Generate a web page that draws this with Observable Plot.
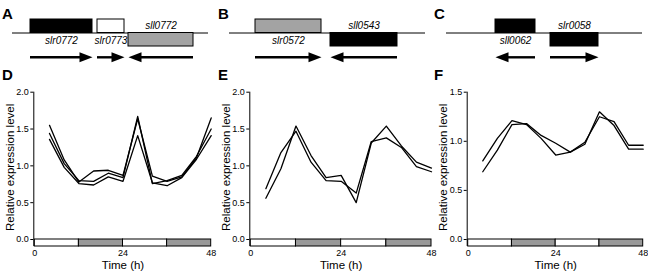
<!DOCTYPE html>
<html>
<head>
<meta charset="utf-8">
<script src="https://cdn.jsdelivr.net/npm/d3@7"></script>
<script src="https://cdn.jsdelivr.net/npm/@observablehq/plot@0.6"></script>
<style>
  body { margin: 0; background: white; }
  #fig { position: relative; width: 648px; height: 271px; overflow: hidden; font-family: "Liberation Sans", Arial, Helvetica, sans-serif; }
  .pl { position: absolute; }
  .letter { position: absolute; font-family: "Liberation Sans Narrow", "Liberation Sans", Arial, sans-serif; font-weight: bold; font-size: 15px; line-height: 15px; }
</style>
</head>
<body>
<div id="fig"></div>
<script>
// ---------- data ----------
const time = [4, 8, 12, 16, 20, 24, 28, 32, 36, 40, 44, 48];

// Panel D (slr0772 / slr0773 / sll0772)
const dSeries1 = [1.55, 1.08, 0.78, 0.93, 0.94, 0.87, 1.64, 0.86, 0.79, 0.85, 1.11, 1.65];
const dSeries2 = [1.44, 1.03, 0.80, 0.79, 0.90, 0.84, 1.67, 0.76, 0.80, 0.87, 1.13, 1.50];
const dSeries3 = [1.36, 0.98, 0.76, 0.74, 0.85, 0.79, 1.41, 0.77, 0.73, 0.84, 1.09, 1.41];

// Panel E (slr0572 / sll0543)
const eSeries1 = [0.69, 1.18, 1.47, 1.05, 0.80, 0.79, 0.63, 1.33, 1.38, 1.25, 0.99, 0.92];
const eSeries2 = [0.56, 0.96, 1.54, 1.14, 0.84, 0.87, 0.50, 1.31, 1.54, 1.27, 1.05, 0.97];

// Panel F (sll0062 / slr0058)
const fSeries1 = [0.80, 1.03, 1.21, 1.17, 1.03, 0.86, 0.89, 0.97, 1.30, 1.16, 0.92, 0.92];
const fSeries2 = [0.69, 0.91, 1.17, 1.18, 1.06, 0.98, 0.89, 0.99, 1.25, 1.20, 0.96, 0.96];

// light / dark regime
const phaseStart = [0, 12, 24, 36];
const phaseEnd = [12, 24, 36, 48];
const phaseKind = ["light", "dark", "light", "dark"];

const xTicks = [0, 24, 48];
const yTicks2 = [0, 0.5, 1.0, 1.5, 2.0];
const yTicks15 = [0, 0.5, 1.0, 1.5];

// Gene maps (map units along each contig)
const contigLength = 196;
const aNames = ["slr0772", "slr0773", "sll0772"];
const aStart = [18, 85, 116];
const aEnd = [80, 112, 181];
const aSide = [1, 1, -1];          // box above (+1) or below (-1) the contig line
const aDir = [1, 1, -1];           // transcription direction
const aShade = ["black", "white", "gray"];

const bNames = ["slr0572", "sll0543"];
const bStart = [26, 101];
const bEnd = [92, 168];
const bSide = [1, -1];
const bDir = [1, -1];
const bShade = ["gray", "black"];

const cNames = ["sll0062", "slr0058"];
const cStart = [49, 104];
const cEnd = [89, 152];
const cSide = [1, -1];
const cDir = [-1, 1];
const cShade = ["black", "black"];

// ---------- helpers ----------
const FONT = "Liberation Sans, Arial, Helvetica, sans-serif";
const shadeColor = {black: "#000", white: "#fff", gray: "#a3a3a3"};
const phaseColor = {light: "#fff", dark: "#999"};
const fig = document.getElementById("fig");

function place(node, left, top) {
  node.classList.add("pl");
  node.style.left = left + "px";
  node.style.top = top + "px";
  fig.appendChild(node);
}
function letter(t, left, top) {
  const d = document.createElement("div");
  d.className = "letter";
  d.textContent = t;
  d.style.left = left + "px";
  d.style.top = top + "px";
  fig.appendChild(d);
}

const headRight = {draw(ctx) { ctx.moveTo(0, 0); ctx.lineTo(-13, -5); ctx.lineTo(-13, 5); ctx.closePath(); }};
const headLeft = {draw(ctx) { ctx.moveTo(0, 0); ctx.lineTo(13, -5); ctx.lineTo(13, 5); ctx.closePath(); }};

function geneMap(names, starts, ends, sides, dirs, shades, rangeX) {
  const genes = names.map((n, i) => ({name: n, start: starts[i], end: ends[i], side: sides[i], dir: dirs[i], shade: shades[i]}));
  const arrowRow = -1.8;
  const right = genes.filter(g => g.dir > 0);
  const left = genes.filter(g => g.dir < 0);
  return Plot.plot({
    width: 216, height: 64,
    margin: 0,
    style: {fontFamily: FONT, overflow: "visible", background: "transparent"},
    x: {domain: [0, contigLength], range: rangeX, axis: null},
    y: {domain: [1, -1], range: [19, 46], axis: null},
    marks: [
      Plot.ruleY([0], {x1: 0, x2: contigLength, stroke: "black", strokeWidth: 1}),
      Plot.rect(genes, {x1: "start", x2: "end", y1: 0, y2: "side", fill: d => shadeColor[d.shade], stroke: "black", strokeWidth: 1}),
      Plot.text(genes, {x: d => (d.start + d.end) / 2, y: d => d.side > 0 ? -0.79 : 0.32, text: "name", fontStyle: "italic", fontSize: 10, lineAnchor: "bottom", fill: "black"}),
      Plot.ruleY(right, {x1: "start", x2: "end", y: arrowRow, stroke: "black", strokeWidth: 2.4, insetRight: 8}),
      Plot.ruleY(left, {x1: "start", x2: "end", y: arrowRow, stroke: "black", strokeWidth: 2.4, insetLeft: 8}),
      Plot.dot(right, {x: "end", y: arrowRow, symbol: headRight, r: 5, fill: "black", stroke: "none"}),
      Plot.dot(left, {x: "start", y: arrowRow, symbol: headLeft, r: 5, fill: "black", stroke: "none"})
    ]
  });
}

function chart(seriesList, ymax, yTicks, mLeft, mRight) {
  const rows = [];
  seriesList.forEach((vals, s) => vals.forEach((v, i) => rows.push({series: s, t: time[i], v})));
  const phases = phaseKind.map((k, i) => ({kind: k, start: phaseStart[i], end: phaseEnd[i]}));
  const height = 186, mTop = 6.7, mBottom = 25;
  const barPx = 7;
  const pxPerUnit = (height - mTop - mBottom - barPx) / ymax;
  const lo = -barPx / pxPerUnit;
  return Plot.plot({
    width: 216, height,
    marginTop: mTop, marginBottom: mBottom, marginLeft: mLeft, marginRight: mRight,
    style: {fontFamily: FONT, overflow: "visible", background: "transparent", color: "black"},
    x: {domain: [0, 48]},
    y: {domain: [lo, ymax]},
    marks: [
      Plot.rect(phases, {x1: "start", x2: "end", y1: lo, y2: 0, fill: d => phaseColor[d.kind], stroke: "black", strokeWidth: 1}),
      Plot.ruleX([0], {stroke: "black", strokeWidth: 1, dx: -1}),
      Plot.axisY(yTicks, {tickSize: 3, tickPadding: 2, tickFormat: d3.format(".1f"), fontSize: 9, label: null, dx: -1, stroke: "black", color: "black"}),
      Plot.axisX(xTicks, {tickSize: 0, tickPadding: 3.5, fontSize: 9, label: null}),
      Plot.text(["Time (h)"], {frameAnchor: "bottom", dy: 22, lineAnchor: "bottom", fontSize: 11.5, fill: "black"}),
      Plot.text(["Relative expression level"], {frameAnchor: "left", rotate: -90, textAnchor: "middle", dx: -21.3, dy: -2, lineAnchor: "bottom", fontSize: 11.5, fill: "black"}),
      Plot.line(rows, {x: "t", y: "v", z: "series", stroke: "black", strokeWidth: 1.3})
    ]
  });
}

// ---------- layout ----------
place(geneMap(aNames, aStart, aEnd, aSide, aDir, aShade, [12, 208]), 0, 0);
place(geneMap(bNames, bStart, bEnd, bSide, bDir, bShade, [13, 209]), 216, 0);
place(geneMap(cNames, cStart, cEnd, cSide, cDir, cShade, [14, 210]), 432, 0);

place(chart([dSeries1, dSeries2, dSeries3], 2.0, yTicks2, 34.3, 5.3), 0, 85);
place(chart([eSeries1, eSeries2], 2.0, yTicks2, 34.3, 1), 216, 85);
place(chart([fSeries1, fSeries2], 1.5, yTicks15, 35.7, 5.3), 432, 85);

letter("A", 2, 6);
letter("B", 218, 6);
letter("C", 434, 6);
letter("D", 2, 67);
letter("E", 218, 67);
letter("F", 434, 67);
</script>
</body>
</html>
